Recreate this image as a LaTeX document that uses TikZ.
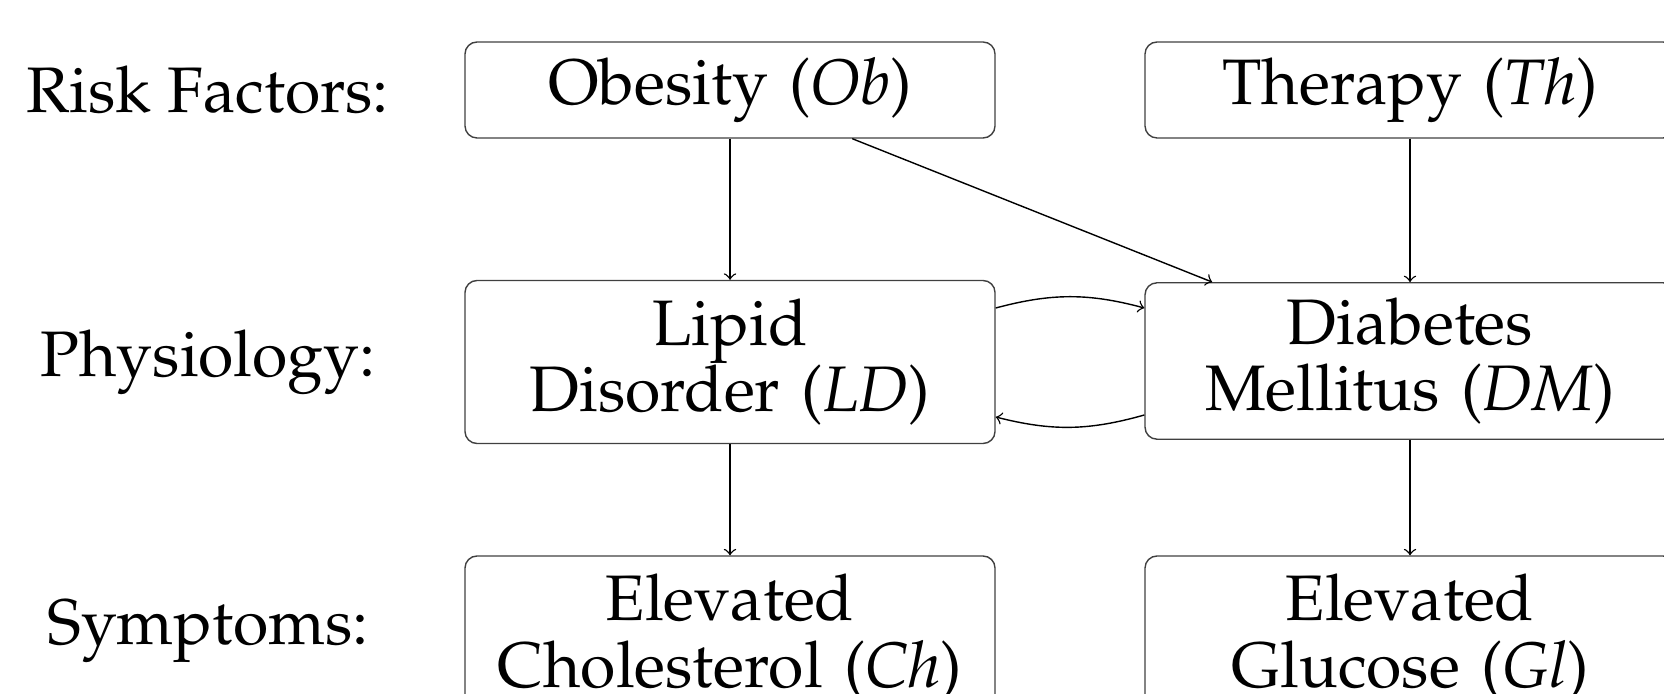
\documentclass[tikz,border=0pt]{standalone}
\usepackage[T1]{fontenc}
\usepackage{mathpazo}
\usepackage{tikz}

\tikzset{
  var/.style={draw=black!75, rounded corners=1.2mm, text width=5.0cm, minimum width=5.3cm,
    align=center, inner sep=1.5mm},
  lvl/.style={align=center}
}

\begin{document}
\begin{tikzpicture}[>=to, font=\fontsize{18.3}{18.9}\selectfont]
  \useasboundingbox (0, 0) rectangle (16.64, -6.94);

  \node[lvl] (rf) at (2.08, -0.9) {Risk Factors:};
  \node[lvl] (ph) at (2.08, -3.62) {Physiology:};
  \node[lvl] (sy) at (2.08, -6.31) {Symptoms:};

  \node[var, minimum height=0.96cm] (ob) at (7.3, -0.9) {Obesity (\textit{Ob})};
  \node[var, minimum height=0.96cm] (th) at (14.1, -0.9) {Therapy (\textit{Th})};

  \node[var, minimum height=1.63cm] (ld) at (7.3, -3.62) {Lipid\\Disorder (\textit{LD})};
  \node[var] (dm) at (14.1, -3.61) {Diabetes\\Mellitus (\textit{DM})};

  \node[var, minimum height=1.63cm] (ch) at (7.3, -6.375) {Elevated\\Cholesterol (\textit{Ch})};
  \node[var, minimum height=1.63cm] (gl) at (14.1, -6.375) {Elevated\\Glucose (\textit{Gl})};

  \draw[->] (ob) -- (ld);
  \draw[->] (ob) -- (dm);
  \draw[->] (th) -- (dm);
  \draw[->] ([yshift=5.4mm]ld.east) to[bend left=15] ([yshift=5.3mm]dm.west);
  \draw[->] ([yshift=-5.4mm]dm.west) to[bend left=15] ([yshift=-5.5mm]ld.east);
  \draw[->] (ld) -- (ch);
  \draw[->] (dm) -- (gl);
\end{tikzpicture}
\end{document}
